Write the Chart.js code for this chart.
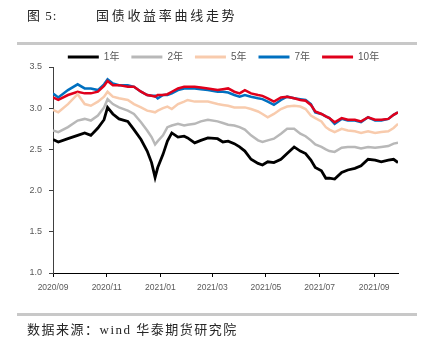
<!DOCTYPE html>
<html>
<head>
<meta charset="utf-8">
<script src="https://cdn.jsdelivr.net/npm/chart.js@4.4.1/dist/chart.umd.min.js"></script>
<style>
  body { margin: 0; background: #fff; }
  #wrap { position: relative; width: 428px; height: 348px; overflow: hidden; }
  #wrap canvas { position: absolute; left: 0; top: 0; }
  .t { position: absolute; white-space: nowrap; font-family: "Liberation Serif", "Noto Sans CJK SC", serif; color: #262626; font-size: 13px; line-height: 16px; }
  .rule { position: absolute; left: 17px; width: 400px; height: 3px; background: #c8c8c8; }
</style>
</head>
<body>
<div id="wrap">
  <canvas id="myChart" width="428" height="348"></canvas>
  <div class="t" style="left:27px; top:8px; letter-spacing:1px;">图 5:</div>
  <div class="t" style="left:96px; top:8px; letter-spacing:2.7px;">国债收益率曲线走势</div>
  <div class="rule" style="top:42px;"></div>
  <div class="rule" style="top:313px;"></div>
  <div class="t" style="left:27px; top:322px; letter-spacing:1.5px;">数据来源：wind 华泰期货研究院</div>
</div>
<script>
// weekly readings of the yield curves (%)
var dates = ['2020-09-01','2020-09-07','2020-09-18','2020-09-29','2020-10-07','2020-10-14','2020-10-22','2020-10-29','2020-11-02','2020-11-08',
  '2020-11-15','2020-11-25','2020-12-02','2020-12-10','2020-12-17','2020-12-22','2020-12-26','2020-12-29','2021-01-04','2021-01-09',
  '2021-01-14','2021-01-21','2021-01-28','2021-02-01','2021-02-09','2021-02-16','2021-02-24','2021-03-07','2021-03-13','2021-03-19',
  '2021-03-26','2021-04-01','2021-04-07','2021-04-14','2021-04-22','2021-04-27','2021-05-03','2021-05-10','2021-05-18','2021-05-25',
  '2021-06-02','2021-06-09','2021-06-15','2021-06-21','2021-06-26','2021-07-03','2021-07-08','2021-07-12','2021-07-18','2021-07-26',
  '2021-08-02','2021-08-10','2021-08-17','2021-08-25','2021-09-02','2021-09-09','2021-09-17','2021-09-23','2021-09-28'];

var y1 = [2.62,2.59,2.63,2.67,2.70,2.67,2.76,2.86,3.01,2.93, 2.87,2.84,2.74,2.62,2.48,2.34,2.16,2.28,2.44,2.60,
  2.70,2.65,2.66,2.64,2.58,2.61,2.64,2.63,2.59,2.60, 2.57,2.53,2.48,2.38,2.33,2.31,2.35,2.34,2.38,2.45,
  2.53,2.48,2.45,2.37,2.28,2.24,2.15,2.15,2.14,2.22, 2.25,2.27,2.30,2.38,2.37,2.35,2.37,2.38,2.34];
var y2 = [2.73,2.71,2.77,2.85,2.87,2.85,2.91,3.01,3.11,3.05, 3.01,2.97,2.93,2.83,2.73,2.65,2.56,2.60,2.67,2.77,
  2.79,2.81,2.79,2.80,2.81,2.84,2.86,2.84,2.82,2.80, 2.79,2.77,2.74,2.67,2.61,2.59,2.61,2.63,2.69,2.75,
  2.75,2.69,2.66,2.61,2.56,2.53,2.50,2.48,2.47,2.52, 2.53,2.53,2.51,2.53,2.52,2.53,2.54,2.57,2.58];
var y5 = [2.98,2.95,3.05,3.17,3.05,3.03,3.08,3.14,3.20,3.14, 3.12,3.10,3.05,3.01,2.97,2.96,2.95,2.97,3.00,3.02,
  2.99,3.05,3.08,3.10,3.08,3.08,3.08,3.05,3.04,3.03, 3.01,3.01,3.01,2.99,2.96,2.93,2.89,2.93,2.99,3.02,
  3.03,3.02,2.99,2.91,2.88,2.84,2.77,2.74,2.71,2.75, 2.73,2.72,2.70,2.72,2.70,2.71,2.72,2.76,2.81];
var y7 = [3.18,3.13,3.22,3.29,3.24,3.24,3.22,3.29,3.35,3.30, 3.28,3.28,3.26,3.20,3.16,3.15,3.15,3.12,3.16,3.16,
  3.18,3.22,3.24,3.24,3.24,3.23,3.22,3.20,3.20,3.19, 3.16,3.14,3.16,3.14,3.12,3.11,3.08,3.04,3.10,3.14,
  3.12,3.11,3.10,3.05,2.95,2.93,2.90,2.88,2.81,2.87, 2.85,2.85,2.83,2.89,2.85,2.85,2.87,2.92,2.95];
var y10 = [3.13,3.10,3.16,3.20,3.18,3.18,3.20,3.27,3.33,3.28, 3.28,3.26,3.26,3.20,3.16,3.15,3.14,3.16,3.16,3.17,
  3.20,3.24,3.26,3.26,3.26,3.25,3.24,3.22,3.23,3.24, 3.20,3.18,3.22,3.18,3.16,3.15,3.12,3.08,3.13,3.14,
  3.12,3.10,3.09,3.04,2.96,2.93,2.90,2.88,2.83,2.88, 2.86,2.86,2.84,2.89,2.86,2.86,2.87,2.92,2.95];

var tickLabels = ['2020/09','2020/11','2021/01','2021/03','2021/05','2021/07','2021/09'];

var start = Date.parse('2020-09-01');
function dayOf(s) { return (Date.parse(s) - start) / 864e5; }
function pts(arr) { return dates.map(function (d, i) { return { x: dayOf(d), y: arr[i] }; }); }

function line(label, arr, color, width, order) {
  return {
    label: label, data: pts(arr),
    borderColor: color, backgroundColor: color,
    borderWidth: width, pointRadius: 0, tension: 0, order: order
  };
}

Chart.defaults.font.family = '"Liberation Sans", "Noto Sans CJK SC", sans-serif';
Chart.defaults.color = '#595959';

// squeeze the legend box so the plot starts right under it
var legendFit = {
  id: 'legendFit',
  beforeInit: function (chart) {
    var fit = chart.legend.fit;
    chart.legend.fit = function () { fit.call(this); this.height = 27; };
  },
  afterLayout: function (chart) { chart.legend.left += 12; chart.legend.right += 12; }
};

var chart = new Chart('myChart', {
  type: 'line',
  data: {
    datasets: [
      line('1年', y1, '#000000', 2.8, 0),
      line('2年', y2, '#b8b8b8', 2.5, 0),
      line('5年', y5, '#f8cbad', 2.5, 0),
      line('7年', y7, '#0070c0', 2.5, 1),
      line('10年', y10, '#e0001b', 2.5, 0)
    ]
  },
  options: {
    responsive: false,
    animation: false,
    devicePixelRatio: 1,
    layout: { padding: { left: 25, right: 30, top: 40, bottom: 45 } },
    plugins: {
      tooltip: { enabled: false },
      legend: {
        position: 'top',
        labels: {
          boxWidth: 31, boxHeight: 3, padding: 12,
          font: { size: 10 }, color: '#595959',
          sort: function (a, b) { return a.datasetIndex - b.datasetIndex; },
          generateLabels: function (c) {
            return Chart.defaults.plugins.legend.labels.generateLabels(c).map(function (it) {
              it.lineWidth = 0; it.fillStyle = it.strokeStyle; return it;
            });
          }
        }
      }
    },
    scales: {
      x: {
        type: 'linear', min: 0, max: dayOf(dates[dates.length - 1]),
        afterBuildTicks: function (s) {
          s.ticks = tickLabels.map(function (l) { return { value: dayOf(l.replace('/', '-') + '-01') }; });
        },
        afterFit: function (s) { s.height = 30; },
        grid: { drawOnChartArea: false, drawTicks: true, tickLength: 4, color: '#000' },
        border: { display: true, color: '#000', width: 1 },
        ticks: {
          autoSkip: false, maxRotation: 0, padding: 6,
          font: { size: 8.5 }, color: '#595959',
          callback: function (v, i) { return tickLabels[i]; }
        }
      },
      y: {
        min: 1, max: 3.5,
        afterFit: function (s) { s.width = 28; },
        grid: { drawOnChartArea: false, drawTicks: true, tickLength: 4, color: '#404040' },
        border: { display: true, color: '#404040', width: 1 },
        ticks: {
          stepSize: 0.5, padding: 7,
          font: { size: 9 }, color: '#595959',
          callback: function (v) { return v.toFixed(1); }
        }
      }
    }
  },
  plugins: [legendFit]
});
</script>
</body>
</html>
